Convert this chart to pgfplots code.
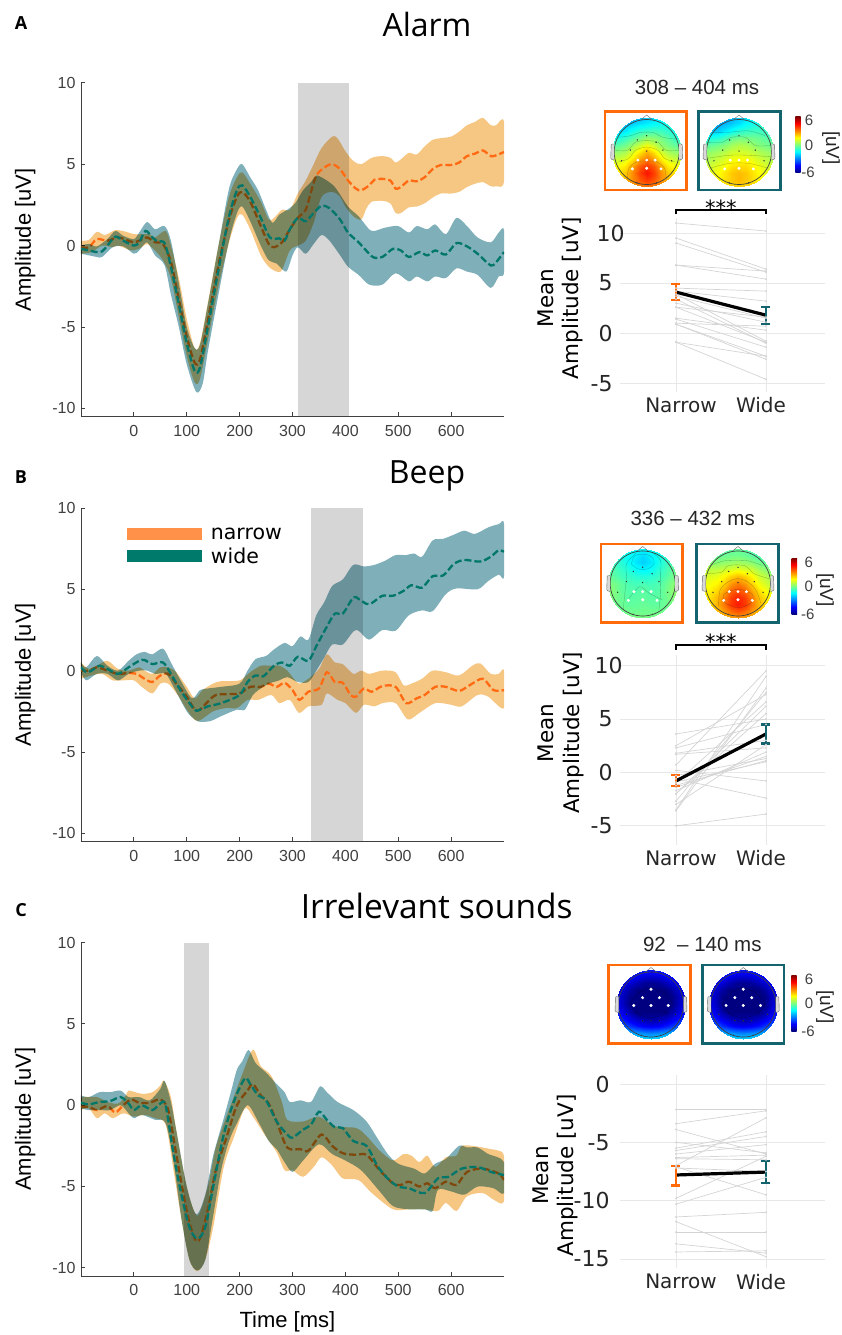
\documentclass[border=0pt]{standalone}
\usepackage{fontspec}
\usepackage{pgfplots}
\pgfplotsset{compat=1.18}
\setmainfont{Liberation Sans}
\newfontfamily\djv{DejaVu Sans}
\newfontfamily\ops{Open Sans}
\definecolor{bandO}{RGB}{246,198,131}
\definecolor{bandT}{RGB}{127,175,185}
\definecolor{lineO}{RGB}{255,106,19}
\definecolor{lineT}{RGB}{0,119,106}
\definecolor{patchO}{RGB}{255,146,72}
\definecolor{patchT}{RGB}{0,122,107}
\definecolor{frameO}{RGB}{255,106,10}
\definecolor{frameT}{RGB}{20,100,112}
\definecolor{axc}{RGB}{64,64,64}
\definecolor{shade}{RGB}{214,214,214}
\definecolor{gridc}{RGB}{232,232,232}
\definecolor{pairc}{RGB}{212,212,212}
\pgfdeclareverticalshading{jetbar}{100bp}{
 rgb(0bp)=(0,0,0.5);
 rgb(25bp)=(0,0,0.5);
 rgb(31.25bp)=(0,0,1);
 rgb(43.75bp)=(0,1,1);
 rgb(50bp)=(0.5,1,0.5);
 rgb(56.25bp)=(1,1,0);
 rgb(68.75bp)=(1,0,0);
 rgb(75bp)=(0.5,0,0);
 rgb(100bp)=(0.5,0,0)}
\pgfplotsset{
 erp/.style={scale only axis, width=423pt, height=333.5pt,
  xmin=-100, xmax=700, ymin=-10.5, ymax=10,
  axis lines=left, axis line style={draw=axc,-,line width=0.8pt},
  xtick={0,100,...,600}, ytick={-10,-5,0,5,10},
  tick style={draw=axc,line width=0.8pt}, tick align=inside, major tick length=4pt,
  tick label style={font=\fontsize{16}{19}\selectfont, text=axc},
  /pgf/number format/assume math mode=true,
  xticklabel style={yshift=-5pt}, yticklabel style={xshift=-2pt},
  clip=true,
  every axis y label/.style={at={(axis description cs:-0.132,#1)},rotate=90,anchor=center,font=\fontsize{22}{26}\selectfont},
  ylabel={Amplitude [uV]},
  title style={font=\ops\fontsize{32}{36}\selectfont,anchor=center}},
 fO/.style={fill=bandO,draw=none,smooth,forget plot,blend mode=multiply},
 fT/.style={fill=bandT,draw=none,smooth,forget plot,blend mode=multiply},
 mO/.style={lineO,line width=2.3pt,dash pattern=on 7pt off 3pt,smooth,forget plot,mark=none},
 mT/.style={lineT,line width=2.3pt,dash pattern=on 7pt off 3pt,smooth,forget plot,mark=none},
 shd/.style={fill=shade,draw=none,forget plot},
 pw/.style={scale only axis, width=205pt, xmin=0.378, xmax=2.656,
  axis line style={draw=none}, clip=false,
  xtick={1,2}, xticklabels={\hspace*{10pt}Narrow,\raisebox{-2pt}{Wide}\hspace*{10pt}},
  tick style={draw=none},
  ymajorgrids, xmajorgrids, grid style={gridc,line width=0.7pt},
  tick label style={font=\djv\fontsize{20}{24}\selectfont,text=black!85},
  /pgf/number format/assume math mode=true,
  yticklabel style={font=\djv\fontsize{22}{26}\selectfont,inner sep=0pt,xshift=-7.3pt},
  xticklabel style={yshift=-2pt}},
 pr/.style={pairc,line width=0.7pt,mark=*,mark size=0.5pt,forget plot},
 mn/.style={black,line width=3.2pt,mark=none,forget plot},
 ebO/.style={draw=none,forget plot,error bars/.cd,y dir=both,y explicit,error bar style={frameO,line width=2.3pt},error mark options={frameO,rotate=90,mark size=4.5pt,line width=2.3pt}},
 ebT/.style={draw=none,forget plot,error bars/.cd,y dir=both,y explicit,error bar style={frameT,line width=2.3pt},error mark options={frameT,rotate=90,mark size=4.5pt,line width=2.3pt}},
 brk/.style={black,line width=1.4pt,forget plot,mark=none},
 ctr/.style={black,draw opacity=0.28,line width=0.35pt,smooth,forget plot,mark=none},
}
\newcommand\pair[2]{\addplot[pr] coordinates {(1,#1)(2,#2)};}
\newcommand\toptable[1]{\addplot3[surf,shader=interp,mesh/cols=11,forget plot] table[row sep=crcr,header=false,
   x expr={mod(\coordindex,11)*0.22-1.1}, y expr={1.1-floor(\coordindex/11)*0.22}, z index=0] {#1};}
\newcommand\cl[1]{\addplot3[ctr] coordinates {#1};}
\def\pmr{7}
% topographic map: centre x, centre y (pixels down), z table, white electrodes, black electrodes, contour lines
\newcommand\topo[6]{%
 \begin{scope}
 \clip (#1pt,-#2pt) circle (34.5pt);
 \begin{axis}[at={(#1pt,-#2pt)},anchor=center,scale only axis,width=78pt,height=78pt,
   xmin=-1.2,xmax=1.2,ymin=-1.2,ymax=1.2,hide axis,view={0}{90},colormap/jet,
   point meta min=-\pmr,point meta max=\pmr,clip=false]
 \expandafter\toptable\expandafter{#3}
 #6
 \addplot3[only marks,mark=*,mark size=0.45pt,black!80,forget plot] coordinates {#5};
 \addplot3[only marks,mark=*,mark size=1.3pt,white,forget plot] coordinates {#4};
 \end{axis}
 \end{scope}
 \draw[black!75,line width=0.7pt] (#1pt,-#2pt) circle (32.5pt);
 \draw[black!60,line width=0.4pt] (#1pt-5.5pt,-#2pt+32.5pt) -- (#1pt,-#2pt+37pt) -- (#1pt+5.5pt,-#2pt+32.5pt);
 \draw[black!60,fill=white!85!black,line width=0.4pt,rounded corners=1pt] (#1pt-32.5pt,-#2pt+8pt) -- (#1pt-35.5pt,-#2pt+8pt) -- (#1pt-36pt,-#2pt-7pt) -- (#1pt-32.5pt,-#2pt-8pt);
 \draw[black!60,fill=white!85!black,line width=0.4pt,rounded corners=1pt] (#1pt+32.5pt,-#2pt+8pt) -- (#1pt+35.5pt,-#2pt+8pt) -- (#1pt+36pt,-#2pt-7pt) -- (#1pt+32.5pt,-#2pt-8pt);
}
\newcommand\frm[3]{\draw[#1,line width=2.6pt] (#2pt,-#3pt) rectangle ++(81.6pt,-78.4pt);}
\newcommand\cbar[6]{% x, ytop, labelx, uVx, uVy, unused
 \shade[shading=jetbar] (#1pt,-#2pt) rectangle ++(5.4pt,-56pt);
 \node[font=\fontsize{15}{18}\selectfont,text=axc] at (#3pt,-#2pt-4pt) {6};
 \node[font=\fontsize{15}{18}\selectfont,text=axc] at (#3pt,-#2pt-28.5pt) {0};
 \node[font=\fontsize{15}{18}\selectfont,text=axc] at (#3pt-1pt,-#2pt-56pt) {-6};
 \node[font=\fontsize{19}{22}\selectfont,text=black!85,rotate=-90] at (#4pt,-#5pt) {[uV]};
}
\def\whiteAB{(-.27,-.25,9)(0,-.25,9)(.26,-.25,9)(-.44,-.52,9)(0,-.5,9)(.44,-.52,9)}
\def\blackAB{(0,.5,9)(-.29,.37,9)(.29,.3,9)(0,.03,9)(-.5,.06,9)(.5,.06,9)(-.77,-.27,9)(.77,-.27,9)(-.3,-.95,9)(.3,-.95,9)}
\def\whiteC{(0,.47,9)(-.26,.21,9)(.26,.21,9)(-.53,-.03,9)(0,-.03,9)(.53,-.03,9)}
\def\blackC{(-.75,-.3,9)(.75,-.3,9)(-.26,-.5,9)(0,-.5,9)(.26,-.5,9)(-.3,-.95,9)(.3,-.95,9)}
\def\zAn{-3\\-3\\-3\\-3\\-2.8\\-2.6\\-2.4\\-2.2\\-2\\-2\\-2\\
-3\\-3\\-2.8\\-2.5\\-2.2\\-2\\-1.8\\-1.6\\-1.5\\-1.7\\-2\\
-2.6\\-2.4\\-2\\-1.5\\-1.1\\-.9\\-.8\\-.9\\-1.1\\-1.5\\-1.8\\
-1.6\\-1.4\\-1\\-.6\\-.1\\.3\\.2\\-.1\\-.5\\-1\\-1.4\\
-.7\\-.5\\-.2\\.3\\1\\1.5\\1\\.3\\-.1\\-.4\\-.6\\
.3\\.3\\.6\\1.2\\2.1\\2.8\\2.1\\1.2\\.6\\.3\\.2\\
1\\1\\1.3\\2\\3\\3.6\\3\\2\\1.3\\1\\1\\
1.6\\1.7\\2\\2.9\\4\\4.5\\4\\2.9\\2\\1.7\\1.6\\
2\\2.1\\2.5\\3.3\\4.4\\5\\4.4\\3.3\\2.5\\2.1\\2\\
2.4\\2.4\\2.7\\3.3\\4\\4.4\\4\\3.3\\2.7\\2.4\\2.4\\
2.6\\2.6\\2.8\\3\\3.3\\3.5\\3.3\\3\\2.8\\2.6\\2.6\\}
\def\zAw{-3\\-3\\-3\\-3\\-2.8\\-2.6\\-2.3\\-2\\-1.8\\-1.7\\-1.7\\
-3\\-3\\-3\\-2.8\\-2.5\\-2.2\\-1.8\\-1.5\\-1.3\\-1.3\\-1.4\\
-2.6\\-2.6\\-2.4\\-2\\-1.6\\-1.2\\-1\\-.9\\-.9\\-1\\-1.2\\
-1.4\\-1.4\\-1.2\\-.8\\-.3\\-.1\\-.1\\-.2\\-.3\\-.6\\-.8\\
-.5\\-.4\\-.2\\.1\\.5\\.7\\.6\\.3\\0\\-.2\\-.3\\
.2\\.3\\.5\\.8\\1.1\\1.2\\1.1\\.9\\.6\\.4\\.2\\
.6\\.7\\1\\1.3\\1.6\\1.7\\1.7\\1.4\\1.1\\.8\\.6\\
.9\\1.1\\1.4\\1.7\\2.1\\2.2\\2.2\\1.9\\1.5\\1.1\\.9\\
1.2\\1.4\\1.7\\2.1\\2.5\\2.7\\2.5\\2.1\\1.7\\1.4\\1.2\\
1.4\\1.6\\1.8\\2.2\\2.5\\2.7\\2.5\\2.2\\1.8\\1.6\\1.4\\
1.6\\1.7\\1.9\\2.1\\2.2\\2.3\\2.2\\2.1\\1.9\\1.7\\1.6\\}
\def\zBn{-1.2\\-1.2\\-1.3\\-1.4\\-1.6\\-1.8\\-1.6\\-1.4\\-1.3\\-1.2\\-1\\
-1\\-1.2\\-1.4\\-1.6\\-1.9\\-2.2\\-1.9\\-1.6\\-1.3\\-1\\-.8\\
-.8\\-1\\-1.2\\-1.6\\-2.1\\-2.4\\-2.1\\-1.6\\-1.1\\-.8\\-.6\\
-.5\\-.7\\-1\\-1.3\\-1.7\\-1.9\\-1.7\\-1.3\\-.9\\-.5\\-.2\\
-.3\\-.5\\-.8\\-1\\-1.2\\-1.3\\-1.2\\-1\\-.7\\-.3\\.1\\
.1\\-.1\\-.4\\-.7\\-.8\\-.7\\-.8\\-.7\\-.4\\0\\.4\\
.2\\0\\-.4\\-.6\\-.6\\-.5\\-.6\\-.6\\-.3\\.1\\.5\\
.1\\-.1\\-.3\\-.5\\-.5\\-.4\\-.5\\-.5\\-.3\\0\\.2\\
0\\-.2\\-.3\\-.4\\-.4\\-.3\\-.4\\-.4\\-.3\\-.1\\0\\
-.1\\-.1\\-.2\\-.2\\-.2\\-.2\\-.2\\-.2\\-.2\\-.1\\-.1\\
0\\0\\0\\0\\0\\0\\0\\0\\0\\0\\0\\}
\def\zBw{-1\\-1\\-.8\\-.6\\-.5\\-.4\\-.5\\-.7\\-.9\\-1.2\\-1.4\\
-.5\\-.5\\-.4\\-.3\\-.2\\-.2\\-.3\\-.5\\-.7\\-1\\-1.2\\
.2\\.1\\.1\\.2\\.3\\.4\\.3\\.1\\-.2\\-.5\\-.7\\
.8\\.8\\.8\\1\\1.2\\1.4\\1.2\\1\\.5\\.1\\-.2\\
1.2\\1.3\\1.4\\1.8\\2.3\\2.6\\2.3\\1.8\\1.1\\.7\\.3\\
1.5\\1.6\\1.9\\2.4\\3.2\\3.6\\3.2\\2.4\\1.6\\1.1\\.7\\
1.7\\1.9\\2.3\\3\\3.9\\4.2\\3.9\\3\\2.2\\1.6\\1.2\\
1.9\\2.1\\2.7\\3.5\\4.4\\4.8\\4.4\\3.5\\2.6\\2\\1.6\\
2\\2.2\\2.8\\3.6\\4.5\\4.9\\4.5\\3.6\\2.7\\2.1\\1.8\\
2.2\\2.3\\2.6\\3.1\\3.7\\4\\3.7\\3.1\\2.6\\2.2\\2\\
2.2\\2.3\\2.4\\2.6\\2.8\\3\\2.8\\2.6\\2.4\\2.3\\2.2\\}
\def\zC{-3.5\\-3.5\\-3.7\\-3.9\\-4.1\\-4.2\\-4.1\\-3.9\\-3.7\\-3.5\\-3.5\\
-3.8\\-4\\-4.3\\-4.6\\-4.9\\-5\\-4.9\\-4.6\\-4.3\\-4\\-3.8\\
-4.2\\-4.5\\-5\\-5.4\\-5.7\\-5.8\\-5.7\\-5.4\\-5\\-4.5\\-4.2\\
-4.5\\-5\\-5.6\\-6\\-6.2\\-6.3\\-6.2\\-6\\-5.6\\-5\\-4.5\\
-4.7\\-5.2\\-5.9\\-6.4\\-6.6\\-6.7\\-6.6\\-6.4\\-5.9\\-5.2\\-4.7\\
-4.6\\-5.1\\-5.9\\-6.5\\-6.8\\-6.9\\-6.8\\-6.5\\-5.9\\-5.1\\-4.6\\
-4.2\\-4.8\\-5.5\\-6.1\\-6.4\\-6.5\\-6.4\\-6.1\\-5.5\\-4.8\\-4.2\\
-3.6\\-4.2\\-4.8\\-5.2\\-5.5\\-5.6\\-5.5\\-5.2\\-4.8\\-4.2\\-3.6\\
-3\\-3.4\\-3.9\\-4.3\\-4.6\\-4.7\\-4.6\\-4.3\\-3.9\\-3.4\\-3\\
-1.8\\-2\\-2.4\\-2.7\\-2.9\\-3\\-2.9\\-2.7\\-2.4\\-2\\-1.8\\
-1.2\\-1.3\\-1.5\\-1.6\\-1.7\\-1.8\\-1.7\\-1.6\\-1.5\\-1.3\\-1.2\\}
\begin{document}
\begin{tikzpicture}
\useasboundingbox (0,0) rectangle (841pt,-1335pt);
%====== A
\node[font=\ops\bfseries\fontsize{18}{20}\selectfont] at (21pt,-23pt) {A};
\begin{axis}[erp=0.529,at={(81pt,-416.4pt)},anchor=south west,title={Alarm},
 title style={at={(axis description cs:0.818,1.156)}}]
\addplot[shd] coordinates {(310,-10.5)(406,-10.5)(406,10)(310,10)} -- cycle;
\addplot[fO] coordinates {(-100,0.3)(-85,0.35)(-70,0.85)(-55,0.65)(-35,0.95)(-15,0.85)(0,0.7)(15,0.7)(30,0.7)(40,0.5)(60,0.9)(70,0)(85,-2)(100,-4.5)(115,-6.3)(125,-6.0)(140,-3.5)(160,0)(180,3)(195,4.2)(205,4.5)(220,3.8)(240,2.7)(255,1.6)(265,1.7)(280,2.2)(295,2.2)(310,3.2)(325,4.0)(340,5.0)(355,6.0)(375,6.7)(385,6.6)(400,5.8)(415,5.2)(430,5.0)(450,5.4)(470,5.5)(485,5.4)(495,5.1)(505,5.3)(520,5.7)(535,5.6)(550,6.1)(565,6.5)(580,6.6)(600,6.7)(615,7.0)(630,7.4)(645,7.6)(660,7.85)(675,7.4)(685,7.4)(700,7.6)
(700,3.95)(685,3.65)(675,3.65)(660,3.9)(645,3.8)(630,3.6)(615,3.3)(600,3.2)(580,3.2)(565,2.95)(550,2.6)(535,2.4)(520,2.35)(505,2.0)(495,2.0)(485,2.6)(470,2.75)(450,2.7)(440,2.3)(430,1.6)(415,1.8)(400,2.4)(390,3.0)(375,3.3)(355,3.0)(340,1.4)(325,0.3)(310,0)(295,-0.3)(280,-1.5)(270,-1.6)(255,-1.3)(240,-0.6)(220,1.0)(205,1.9)(195,1.7)(180,0.2)(160,-2.5)(140,-5.8)(125,-8.2)(115,-8.4)(100,-6.8)(85,-4.4)(70,-2)(55,-0.9)(40,-0.3)(25,0.1)(15,-0.1)(0,-0.3)(-10,-0.25)(-30,0)(-40,-0.1)(-60,0)(-80,-0.4)(-100,-0.5)} -- cycle;
\addplot[mO] coordinates {(-100,-0.1)(-85,-0.1)(-70,0.4)(-50,0.3)(-30,0.5)(-10,0.3)(0,0.2)(10,0.3)(25,0.5)(40,0.2)(55,0.1)(70,-1)(85,-3.3)(100,-5.6)(115,-7.2)(125,-7.0)(140,-4.6)(160,-1.2)(180,1.6)(195,3.0)(205,3.3)(220,2.7)(240,1.2)(255,0.1)(265,-0.1)(280,0.2)(295,1.0)(310,1.7)(325,2.2)(335,3.3)(345,4.3)(360,4.8)(375,5.0)(390,4.7)(405,4.0)(420,3.5)(430,3.4)(445,3.7)(455,4.05)(470,4.1)(485,4.0)(495,3.5)(505,3.6)(520,4.0)(535,3.95)(550,4.2)(565,4.7)(580,4.95)(600,4.95)(615,5.1)(630,5.5)(645,5.65)(660,5.85)(675,5.5)(685,5.55)(700,5.75)};
\addplot[fT] coordinates {(-100,0)(-85,0.1)(-70,-0.05)(-50,0.4)(-35,0.9)(-20,0.6)(0,0.4)(10,0.8)(25,1.45)(40,1)(58,1.2)(70,0.3)(85,-2.3)(100,-5)(115,-6.3)(125,-6.1)(140,-3.6)(160,0)(180,3.5)(195,4.7)(205,5)(220,4.2)(235,3.4)(250,2.2)(262,1.4)(275,1.9)(290,2.2)(305,2.6)(320,3.4)(335,3.9)(345,4.3)(360,4.1)(380,3.6)(405,2.4)(425,1.8)(445,1)(455,0.9)(475,1.1)(500,1.2)(520,0.8)(535,1.2)(555,1)(570,1.3)(590,0.7)(610,1.7)(630,1.2)(650,0.5)(675,0.2)(690,0.8)(700,0.95)
(700,-1.65)(690,-1.9)(675,-2.6)(650,-1.8)(630,-1.6)(610,-1.4)(590,-2)(570,-1.9)(555,-2.2)(535,-1.9)(520,-2.2)(495,-1.7)(470,-2.4)(445,-2.4)(425,-1.8)(405,-1.3)(390,-0.6)(370,0.3)(355,0.65)(340,0.1)(325,-0.5)(310,-0.1)(300,-0.6)(288,-1.6)(270,-1.1)(255,-0.9)(240,0)(220,1.5)(205,2.4)(195,2)(180,0.3)(160,-3)(140,-6.5)(130,-8.5)(118,-9.0)(100,-7.3)(85,-5)(70,-3)(58,-1.2)(40,-0.6)(25,0.2)(10,-0.3)(0,-0.5)(-20,-0.05)(-40,-0.1)(-60,-0.7)(-70,-0.7)(-85,-0.6)(-100,-0.5)} -- cycle;
\addplot[mT] coordinates {(-100,-0.2)(-85,-0.3)(-70,-0.4)(-60,-0.35)(-50,0)(-35,0.55)(-20,0.3)(0,0)(10,0.2)(22,0.9)(35,0.5)(45,0.25)(58,0.15)(70,-1.3)(85,-3.6)(100,-6)(115,-7.7)(125,-7.5)(140,-5)(160,-1.5)(180,1.8)(195,3.4)(205,3.7)(220,3)(240,1.7)(255,0.6)(265,0.4)(275,0.45)(285,0.3)(295,1)(310,1.7)(325,1.5)(340,2)(355,2.45)(370,2.3)(390,1.6)(405,0.8)(425,0.2)(445,-0.5)(455,-0.75)(470,-0.7)(490,-0.2)(505,-0.3)(520,-0.7)(540,-0.4)(555,-0.6)(570,-0.3)(590,-0.55)(610,0.15)(630,-0.05)(650,-0.5)(670,-1.1)(680,-1.2)(700,-0.4)};
\end{axis}
\node[font=\fontsize{20.5}{24}\selectfont,text=black!85] at (697pt,-87pt) {308 -- 404 ms};
\topo{646.7}{152}{\zAn}{\whiteAB}{\blackAB}{\cl{(-1,.05,9)(-.6,.05,9)(-.35,.3,9)(0,.35,9)(.35,.3,9)(.6,.05,9)(1,.05,9)}\cl{(-.9,.45,9)(-.5,.5,9)(-.2,.6,9)(.2,.6,9)(.5,.45,9)(.9,.4,9)}\cl{(-.85,-.3,9)(-.55,-.2,9)(-.35,.05,9)(0,.15,9)(.35,.05,9)(.55,-.2,9)(.85,-.3,9)}\cl{(-.6,-.85,9)(-.55,-.5,9)(-.3,-.3,9)(0,-.28,9)(.3,-.3,9)(.55,-.5,9)(.6,-.85,9)}}
\topo{739}{152}{\zAw}{\whiteAB}{\blackAB}{\cl{(-1,.3,9)(-.5,.3,9)(-.25,.45,9)(.2,.45,9)(.5,.2,9)(1,.2,9)}\cl{(-.9,.6,9)(-.4,.6,9)(.3,.65,9)(.8,.5,9)}\cl{(-1,-.2,9)(-.3,-.1,9)(.3,-.1,9)(1,-.15,9)}\cl{(-.9,-.5,9)(-.3,-.35,9)(.3,-.35,9)(.9,-.5,9)}}
\frm{frameO}{605}{111.7}
\frm{frameT}{698.7}{111.7}
\cbar{795.3}{116.7}{809}{831}{148}{}
\begin{axis}[pw,at={(620pt,-392pt)},anchor=south west,height=174pt,ymin=-5.87,ymax=11.5,
 ytick={-5,0,5,10},yticklabels={-5,0,5,10\hspace*{-12pt}},
 every axis y label/.style={at={(axis description cs:-0.293,0.54)},rotate=90,anchor=center,align=center,font=\djv\fontsize{21.5}{25}\selectfont},
 ylabel={Mean\\Amplitude [uV]}]
\pair{11}{10.2}\pair{9.5}{6.4}\pair{9}{6.1}\pair{6.8}{6.2}\pair{6.8}{5.4}\pair{4.5}{4.2}\pair{4.2}{3.2}\pair{3.9}{-0.8}\pair{3.7}{1.5}\pair{3.4}{-1}\pair{3}{1.1}\pair{2.6}{1.6}\pair{2.6}{-0.9}\pair{1.5}{0.3}\pair{1.4}{-1.4}\pair{1}{0.7}\pair{0.9}{-2.3}\pair{0.9}{-2.6}\pair{-0.9}{-2.3}\pair{-0.9}{-4.6}
\addplot[mn] coordinates {(1,4.1)(2,1.8)};
\addplot[ebO] coordinates {(1,4.1) += (0,0.8) -= (0,0.8)};
\addplot[ebT] coordinates {(2,1.8) += (0,0.85) -= (0,0.9)};
\addplot[brk] coordinates {(1,11.85)(1,12.3)(2,12.3)(2,11.85)};
\node[font=\djv\fontsize{21}{24}\selectfont] at (axis cs:1.5,12.55) {***};
\end{axis}
%====== B
\node[font=\ops\bfseries\fontsize{18}{20}\selectfont] at (21pt,-477pt) {B};
\begin{axis}[erp=0.5,at={(81pt,-841.4pt)},anchor=south west,title={Beep},
 title style={at={(axis description cs:0.818,1.078)}},
 legend style={at={(axis description cs:0.108,0.944)},anchor=north west,draw=none,fill=none,font=\djv\fontsize{20.5}{24}\selectfont,row sep=5pt,inner sep=0pt,nodes={inner sep=1pt}},
 legend cell align=left,
 legend image code/.code={\fill[#1] (0pt,-6pt) rectangle (75pt,6pt);},]
\addlegendimage{fill=patchO,draw=none}
\addlegendimage{fill=patchT,draw=none}
\addplot[shd] coordinates {(335.5,-10.5)(432.5,-10.5)(432.5,10)(335.5,10)} -- cycle;
\addplot[fO] coordinates {(-100,0.5)(-85,0.1)(-70,0.3)(-50,0.6)(-30,0.1)(-10,0)(10,0.2)(20,0)(35,-0.2)(50,0.2)(65,0.2)(80,-0.1)(100,-1)(115,-1.7)(130,-1.2)(150,-0.8)(165,-0.65)(200,-0.6)(220,-0.1)(240,0.3)(255,0.3)(275,0.3)(290,0)(300,-0.4)(313,-0.8)(330,-0.5)(350,0.1)(365,1)(380,0.5)(395,0.4)(415,-0.2)(430,0)(445,-0.2)(470,0)(495,-0.1)(510,-0.9)(525,-0.8)(545,-0.5)(565,0)(590,-0.1)(615,-0.3)(640,0.3)(655,0.45)(675,-0.2)(690,-0.2)(700,0)
(700,-2.3)(670,-1.6)(650,-1.5)(620,-2.2)(600,-2.1)(570,-2)(540,-2.6)(518,-3)(495,-2)(470,-2)(455,-2.2)(435,-2.1)(420,-2.6)(400,-2)(385,-1.8)(365,-1.4)(355,-2.1)(330,-2.2)(312,-2.6)(295,-1.8)(275,-2)(260,-1.5)(235,-1.8)(215,-1.8)(195,-2.3)(175,-2.3)(150,-2.5)(120,-3.1)(100,-2.4)(85,-1.6)(65,-0.8)(50,-0.8)(35,-1.4)(15,-1)(0,-0.6)(-20,-0.6)(-40,-0.6)(-60,-0.2)(-80,-0.3)(-100,-0.5)} -- cycle;
\addplot[mO] coordinates {(-100,0)(-85,0)(-70,0.2)(-50,0)(-30,-0.2)(-10,-0.15)(5,-0.2)(20,-0.5)(35,-0.7)(50,-0.3)(65,-0.2)(80,-0.8)(100,-1.6)(115,-2.4)(125,-2.4)(140,-1.9)(155,-1.5)(175,-1.45)(200,-1.4)(220,-1)(240,-1)(255,-0.8)(270,-1)(285,-0.75)(300,-1.2)(313,-1.8)(330,-1.3)(350,-1.1)(365,-0.1)(380,-0.7)(395,-0.75)(410,-1.5)(420,-1.6)(435,-1.1)(450,-1.3)(470,-0.95)(495,-1)(515,-2)(535,-1.7)(550,-1.5)(570,-1)(590,-1)(615,-1.25)(635,-0.9)(660,-0.5)(680,-1.2)(700,-1.2)};
\addplot[fT] coordinates {(-100,0.5)(-90,0.2)(-70,0.9)(-50,0.3)(-30,0)(-10,0.6)(5,1)(20,1.15)(35,1)(55,1.35)(70,0.5)(90,-0.7)(110,-1.7)(125,-1.2)(140,-1.1)(165,-1)(200,-0.8)(215,0)(230,0.7)(250,0.9)(265,1.3)(285,1.7)(300,1.5)(315,2.1)(330,1.9)(345,3.4)(360,4.2)(375,5.2)(395,5.6)(415,6.5)(435,6.4)(455,6.5)(475,6.75)(495,7.1)(515,7.1)(530,7.2)(545,7)(565,8)(585,8.1)(605,8.35)(625,8.6)(645,8.4)(670,8.8)(690,9)(700,9)
(700,5.8)(690,5.9)(670,5.5)(650,5)(610,5.05)(590,4.7)(565,3.65)(545,3.7)(520,3.4)(495,2.45)(470,2.5)(445,1.9)(425,2.45)(415,2.4)(395,1.6)(375,1.6)(360,0.8)(345,0)(330,-0.7)(310,-0.7)(290,-0.4)(275,-0.6)(255,-0.8)(240,-1.1)(225,-1.5)(210,-2.4)(195,-2.4)(165,-2.8)(145,-3.1)(125,-3.15)(115,-3)(100,-2.5)(75,-1)(60,-0.2)(40,-0.2)(25,0)(10,0)(-10,-0.2)(-30,-0.6)(-50,-0.2)(-70,-0.2)(-90,-0.6)(-100,-0.1)} -- cycle;
\addplot[mT] coordinates {(-100,0.2)(-90,-0.1)(-80,0)(-65,0.3)(-50,0.1)(-30,-0.2)(-10,0.2)(10,0.6)(20,0.65)(35,0.4)(55,0.5)(70,-0.2)(90,-1.3)(115,-2.4)(125,-2.4)(140,-2.2)(165,-2)(200,-1.5)(215,-0.7)(230,-0.3)(245,-0.35)(265,0.3)(280,0.5)(295,0.3)(310,0.85)(330,0.6)(345,1.5)(365,2.7)(380,3.5)(395,3.5)(415,4.5)(425,4.4)(440,4.1)(450,4.15)(470,4.6)(490,4.6)(510,4.9)(525,5.25)(545,5.1)(565,5.8)(585,5.85)(605,6.55)(625,6.8)(655,6.7)(675,7.0)(690,7.4)(700,7.3)};
\legend{\hspace*{8pt}narrow,\hspace*{8pt}wide}
\end{axis}
\node[font=\fontsize{20.5}{24}\selectfont,text=black!85] at (692.7pt,-518pt) {336 -- 432 ms};
\topo{642.7}{583.5}{\zBn}{\whiteAB}{\blackAB}{\cl{(-.35,.6,9)(-.25,.85,9)(.05,.9,9)(.3,.8,9)(.35,.6,9)(.15,.45,9)(-.15,.45,9)(-.35,.6,9)}\cl{(-.6,-.8,9)(-.55,-.3,9)(-.5,.2,9)(-.5,.6,9)(-.2,.95,9)}\cl{(.5,-.8,9)(.55,-.3,9)(.55,.3,9)(.55,.7,9)(.3,.95,9)}\cl{(-.45,-.5,9)(-.1,-.1,9)(.2,-.3,9)(.6,-.5,9)}}
\topo{738}{583.5}{\zBw}{\whiteAB}{\blackAB}{\cl{(-.95,.3,9)(-.5,.35,9)(-.3,.55,9)(.2,.55,9)(.5,.3,9)(.95,.15,9)}\cl{(-.85,.55,9)(-.4,.7,9)(.3,.7,9)(.75,.55,9)}\cl{(-.6,-.7,9)(-.55,-.2,9)(-.3,.05,9)(0,.15,9)(.3,.05,9)(.55,-.2,9)(.7,-.6,9)}\cl{(-.4,-.6,9)(-.45,-.35,9)(-.15,-.2,9)(.15,-.2,9)(.45,-.35,9)(.4,-.6,9)(0,-.75,9)(-.4,-.6,9)}}
\frm{frameO}{601}{544}
\frm{frameT}{696.7}{544}
\cbar{791.7}{558}{808.7}{825}{590}{}
\begin{axis}[pw,at={(620pt,-845pt)},anchor=south west,height=190pt,ymin=-6.8,ymax=11,
 ytick={-5,0,5,10},yticklabels={-5,0,5,10\hspace*{-10pt}},
 every axis y label/.style={at={(axis description cs:-0.29,0.59)},rotate=90,anchor=center,align=center,font=\djv\fontsize{21.5}{26}\selectfont},
 ylabel={Mean\\Amplitude [uV]}]
\pair{3.6}{5}\pair{2.5}{7.3}\pair{2.3}{4.5}\pair{1.8}{3}\pair{1.7}{2.3}\pair{0.7}{9.5}\pair{0.2}{-0.8}\pair{-0.3}{1.3}\pair{-0.6}{-2.4}\pair{-0.9}{1}\pair{-1.2}{1.1}\pair{-1.4}{1.5}\pair{-1.7}{1.9}\pair{-2}{6.2}\pair{-2.7}{7.5}\pair{-3}{2.6}\pair{-3.5}{9}\pair{-3.6}{7.9}\pair{-5}{-3.9}\pair{-2}{5.5}\pair{-1}{6.6}
\addplot[mn] coordinates {(1,-0.8)(2,3.6)};
\addplot[ebO] coordinates {(1,-0.8) += (0,0.55) -= (0,0.5)};
\addplot[ebT] coordinates {(2,3.6) += (0,0.9) -= (0,0.9)};
\addplot[brk] coordinates {(1,11.5)(1,11.95)(2,11.95)(2,11.5)};
\node[font=\djv\fontsize{21}{24}\selectfont] at (axis cs:1.5,12.2) {***};
\end{axis}
%====== C
\node[font=\ops\bfseries\fontsize{18}{20}\selectfont] at (21pt,-910pt) {C};
\begin{axis}[erp=0.47,at={(81pt,-1276pt)},anchor=south west,title={Irrelevant sounds},
 title style={at={(axis description cs:0.841,1.091)},font=\ops\fontsize{33.5}{38}\selectfont},
 xlabel={Time [ms]},
 every axis x label/.style={at={(axis description cs:0.488,-0.138)},anchor=center,font=\fontsize{22}{26}\selectfont}]
\addplot[shd] coordinates {(94.6,-10.5)(141.9,-10.5)(141.9,10)(94.6,10)} -- cycle;
\addplot[fO] coordinates {(-100,0.5)(-70,0.5)(-50,0.2)(-30,0.1)(-15,0.6)(-10,0.9)(15,0.7)(35,0.8)(50,1.2)(57,1.5)(70,0.5)(80,-1.5)(100,-5)(120,-6.8)(140,-5)(155,-2.6)(175,-0.7)(190,0.6)(205,1.9)(225,3.4)(240,2.4)(260,1.8)(280,0.2)(290,-0.9)(320,-1)(350,-0.7)(380,-1.3)(420,-1.4)(440,-1.9)(465,-2.8)(490,-3.4)(510,-3)(525,-3.1)(540,-3.5)(555,-3.1)(570,-3.8)(590,-3.2)(610,-3.1)(620,-2.5)(640,-2.5)(660,-2.6)(675,-2.7)(690,-2.8)(700,-3.2)
(700,-5.9)(680,-5.8)(660,-5.4)(630,-5.6)(610,-6.5)(590,-6)(575,-6.5)(550,-6.4)(520,-6.4)(490,-6.4)(450,-5.4)(425,-4.6)(395,-4.5)(375,-3.7)(355,-3.2)(340,-3.8)(320,-4.4)(300,-4)(285,-4)(270,-2.9)(245,-1.7)(225,-0.7)(210,-0.2)(190,-1.9)(170,-3.8)(150,-7.5)(135,-9.5)(120,-10.2)(105,-9.5)(90,-7)(75,-4)(60,-1.2)(40,-0.8)(20,-0.6)(0,-0.7)(-20,-0.5)(-40,-0.8)(-55,-0.5)(-70,-0.8)(-85,-0.2)(-100,-0.3)} -- cycle;
\addplot[mO] coordinates {(-100,-0.1)(-85,-0.1)(-70,-0.3)(-50,-0.05)(-35,-0.45)(-20,0)(-5,0.35)(10,0.15)(30,0.15)(50,0.35)(65,-0.3)(80,-3)(100,-6.5)(115,-8.2)(125,-8.2)(140,-6.4)(155,-4)(175,-2)(195,0)(215,0.9)(225,1.3)(240,0.6)(255,0.1)(270,-1)(290,-2.6)(315,-2.7)(330,-2.8)(355,-1.8)(375,-2.5)(395,-2.95)(420,-3.05)(440,-3.05)(465,-4)(490,-4.8)(505,-4.9)(520,-4.7)(540,-5)(555,-4.8)(570,-5.1)(590,-4.7)(610,-4.9)(630,-4.1)(660,-3.9)(690,-4.2)(700,-4.6)};
\addplot[fT] coordinates {(-100,0.6)(-85,0.5)(-65,0.8)(-45,0.8)(-25,0.9)(-10,0.5)(10,0.5)(30,0.3)(50,1)(58,1.5)(70,0.2)(80,-1.5)(100,-5)(118,-6.7)(135,-5.5)(150,-3.1)(170,-0.8)(185,1)(195,2.2)(205,2.7)(217,3.4)(230,2.6)(250,2)(270,1.3)(285,0.8)(295,0.2)(315,0.3)(335,0.2)(352,1.15)(365,0.8)(385,0.2)(415,-0.3)(440,-1)(460,-2)(480,-3)(500,-3.6)(530,-3.9)(550,-4.2)(570,-3.6)(590,-3.3)(615,-2.5)(630,-2.6)(650,-2.6)(670,-3)(700,-3.5)
(700,-5.4)(680,-5.1)(650,-5)(625,-5.5)(600,-5.3)(575,-5.2)(565,-6.5)(550,-6.4)(520,-6.4)(490,-6.2)(465,-5.3)(430,-4)(400,-3.4)(375,-3)(350,-2.4)(320,-3.4)(300,-4.1)(285,-3.5)(270,-2.7)(255,-2.2)(235,-1)(215,0)(195,-1.1)(180,-2.2)(165,-4)(150,-6.8)(135,-9.5)(120,-10.15)(105,-9.5)(90,-7)(75,-3.5)(60,-1.1)(40,-0.9)(15,-0.6)(0,-0.8)(-10,-0.5)(-25,0)(-45,-0.3)(-65,-0.3)(-85,-0.3)(-100,-0.2)} -- cycle;
\addplot[mT] coordinates {(-100,0.15)(-85,0.05)(-65,0.2)(-45,0.25)(-25,0.5)(-10,0.1)(0,-0.3)(15,0)(35,-0.3)(50,0.1)(60,0)(75,-3)(90,-5.5)(105,-7.5)(120,-8.2)(135,-7.5)(150,-5)(170,-1.8)(190,0.3)(210,1.65)(220,1.3)(235,0.6)(250,0.3)(270,-1)(290,-1.8)(300,-2)(320,-1.5)(335,-1.2)(350,-0.4)(365,-0.9)(380,-1.35)(395,-1.4)(415,-2.2)(440,-2.5)(460,-3.7)(480,-4.5)(500,-5)(520,-5.1)(550,-5.4)(575,-4.5)(595,-4.4)(620,-3.9)(650,-3.8)(675,-4.1)(700,-4.3)};
\end{axis}
\node[font=\fontsize{20.5}{24}\selectfont,text=black!85] at (702.3pt,-944pt) {92\ \ -- 140 ms};
\def\pmr{6}
\topo{651}{1004.5}{\zC}{\whiteC}{\blackC}{\cl{(-.65,0,9)(-.4,.35,9)(0,.5,9)(.4,.35,9)(.65,0,9)(.4,-.3,9)(0,-.4,9)(-.4,-.3,9)(-.65,0,9)}}
\topo{743.3}{1004.5}{\zC}{\whiteC}{\blackC}{\cl{(-.65,0,9)(-.4,.35,9)(0,.5,9)(.4,.35,9)(.65,0,9)(.4,-.3,9)(0,-.4,9)(-.4,-.3,9)(-.65,0,9)}}
\frm{frameO}{608.7}{965}
\frm{frameT}{702.3}{965}
\cbar{791.3}{975}{809}{825}{1007}{}
\begin{axis}[pw,at={(620pt,-1268.3pt)},anchor=south west,height=193.3pt,ymin=-15.8,ymax=0.77,
 ytick={-15,-10,-5,0},
 yticklabel style={font=\djv\fontsize{22}{26}\selectfont,inner sep=0pt,xshift=-3pt},
 every axis y label/.style={at={(axis description cs:-0.313,0.48)},rotate=90,anchor=center,align=center,font=\djv\fontsize{21.5}{25}\selectfont},
 ylabel={Mean\\Amplitude [uV]}]
\pair{-2.2}{-2.2}\pair{-3.4}{-2.3}\pair{-3.9}{-6}\pair{-5}{-5.9}\pair{-5.5}{-4.1}\pair{-5.7}{-4.5}\pair{-6}{-5.2}\pair{-6.3}{-6.1}\pair{-6.4}{-6.5}\pair{-7}{-2.9}\pair{-7.1}{-9.5}\pair{-7.2}{-7.5}\pair{-9.8}{-6.2}\pair{-10.3}{-8}\pair{-11.4}{-11}\pair{-11.8}{-14.8}\pair{-12.7}{-12.7}\pair{-13.7}{-14.5}\pair{-14.4}{-14.3}
\addplot[mn] coordinates {(1,-7.8)(2,-7.55)};
\addplot[ebO] coordinates {(1,-7.8) += (0,0.8) -= (0,0.9)};
\addplot[ebT] coordinates {(2,-7.55) += (0,0.95) -= (0,0.95)};
\end{axis}
\end{tikzpicture}
\end{document}
